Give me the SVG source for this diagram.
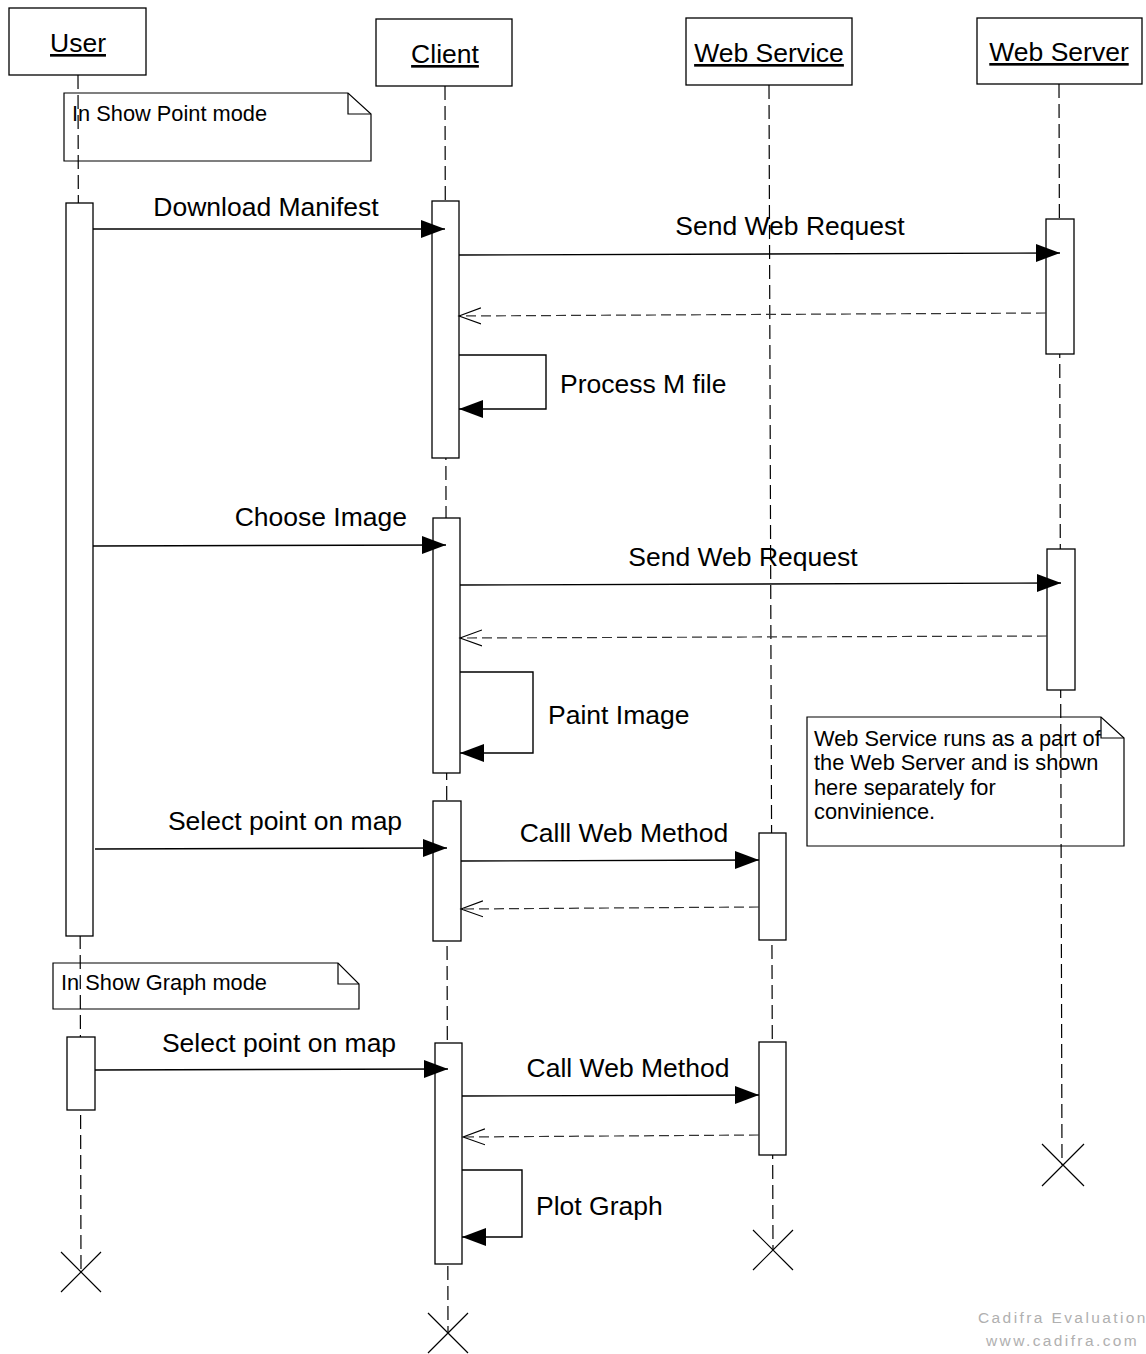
<svg xmlns="http://www.w3.org/2000/svg" width="1146" height="1354" viewBox="0 0 1146 1354">
  <style>
    .box { fill: #fff; stroke: #000; stroke-width: 1.3; }
    .note { fill: #fff; stroke: #000; stroke-width: 1.2; }
    .fold { fill: none; stroke: #000; stroke-width: 1.2; }
    .life { stroke: #000; stroke-width: 1.2; stroke-dasharray: 14 6; fill: none; }
    .msg { stroke: #000; stroke-width: 1.4; fill: none; }
    .ret { stroke: #333; stroke-width: 1.2; stroke-dasharray: 10 5; fill: none; }
    .xend { stroke: #000; stroke-width: 1.2; fill: none; }
    .hdr { font-family: "Liberation Sans", Arial, sans-serif; font-size: 26.5px; text-anchor: middle; text-decoration: underline; fill: #000; }
    .lbl { font-family: "Liberation Sans", Arial, sans-serif; font-size: 26.5px; fill: #000; }
    .ntxt { font-family: "Liberation Sans", Arial, sans-serif; font-size: 21.8px; fill: #000; }
    .wm { font-family: "Liberation Sans", Arial, sans-serif; font-size: 15.5px; fill: #b0b0b0; letter-spacing: 2.4px; }
  </style>
  <defs>
    <marker id="solid" markerUnits="userSpaceOnUse" markerWidth="26" markerHeight="20" refX="24" refY="9" orient="auto">
      <path d="M0,0 L24,9 L0,18 Z" fill="#000"/>
    </marker>
    <marker id="open" markerUnits="userSpaceOnUse" markerWidth="26" markerHeight="20" refX="22" refY="9" orient="auto">
      <path d="M0,1 L22,9 L0,17" fill="none" stroke="#000" stroke-width="1.1"/>
    </marker>
  </defs>

  <rect width="1146" height="1354" fill="#fff"/>

  <!-- notes -->
  <g id="note-point-mode">
    <path class="note" d="M64,93 H348 L371,114 V161 H64 Z"/>
    <path class="fold" d="M348,93 V114 H371"/>
    <text class="ntxt" x="72" y="121">In Show Point mode</text>
  </g>
  <g id="note-graph-mode">
    <path class="note" d="M53,963 H338 L359,984 V1009 H53 Z"/>
    <path class="fold" d="M338,963 V984 H359"/>
    <text class="ntxt" x="61" y="990">In Show Graph mode</text>
  </g>
  <g id="note-web-service">
    <path class="note" d="M807,717 H1101 L1124,738 V846 H807 Z"/>
    <path class="fold" d="M1101,717 V738 H1124"/>
    <text class="ntxt" x="814" y="746">Web Service runs as a part of</text>
    <text class="ntxt" x="814" y="770">the Web Server and is shown</text>
    <text class="ntxt" x="814" y="795">here separately for</text>
    <text class="ntxt" x="814" y="819">convinience.</text>
  </g>

  <!-- lifelines -->
  <g id="lifelines">
    <line class="life" x1="78" y1="75" x2="81" y2="1272"/>
    <line class="life" x1="445" y1="86" x2="448" y2="1333"/>
    <line class="life" x1="769" y1="85" x2="773" y2="1250"/>
    <line class="life" x1="1059" y1="84" x2="1062" y2="1165"/>
  </g>

  <!-- participants -->
  <g id="user">
    <rect class="box" x="9" y="8" width="137" height="67"/>
    <text class="hdr" x="78" y="52">User</text>
    <rect class="box" x="66" y="203" width="27" height="733"/>
    <rect class="box" x="67" y="1037" width="28" height="73"/>
    <path class="xend" d="M61,1252 L101,1292 M101,1252 L61,1292"/>
  </g>
  <g id="client">
    <rect class="box" x="376" y="19" width="136" height="67"/>
    <text class="hdr" x="445" y="63">Client</text>
    <rect class="box" x="432" y="201" width="27" height="257"/>
    <rect class="box" x="433" y="518" width="27" height="255"/>
    <rect class="box" x="433" y="801" width="28" height="140"/>
    <rect class="box" x="435" y="1043" width="27" height="221"/>
    <path class="xend" d="M428,1313 L468,1353 M468,1313 L428,1353"/>
  </g>
  <g id="web-service">
    <rect class="box" x="686" y="18" width="166" height="67"/>
    <text class="hdr" x="769" y="62">Web Service</text>
    <rect class="box" x="759" y="833" width="27" height="107"/>
    <rect class="box" x="759" y="1042" width="27" height="113"/>
    <path class="xend" d="M753,1230 L793,1270 M793,1230 L753,1270"/>
  </g>
  <g id="web-server">
    <rect class="box" x="977" y="18" width="165" height="66"/>
    <text class="hdr" x="1059" y="61">Web Server</text>
    <rect class="box" x="1046" y="219" width="28" height="135"/>
    <rect class="box" x="1047" y="549" width="28" height="141"/>
    <path class="xend" d="M1042,1144 L1084,1186 M1084,1144 L1042,1186"/>
  </g>

  <!-- messages -->
  <g id="connectors">
    <line class="msg" x1="93" y1="229" x2="445" y2="229" marker-end="url(#solid)"/>
    <line class="msg" x1="459" y1="255" x2="1060" y2="253" marker-end="url(#solid)"/>
    <line class="ret" x1="1046" y1="313" x2="459" y2="316" marker-end="url(#open)"/>
    <polyline class="msg" points="459,355 546,355 546,409 459,409" marker-end="url(#solid)"/>

    <line class="msg" x1="93" y1="546" x2="446" y2="545" marker-end="url(#solid)"/>
    <line class="msg" x1="460" y1="585" x2="1061" y2="583" marker-end="url(#solid)"/>
    <line class="ret" x1="1047" y1="636" x2="460" y2="638" marker-end="url(#open)"/>
    <polyline class="msg" points="460,672 533,672 533,753 460,753" marker-end="url(#solid)"/>

    <line class="msg" x1="95" y1="849" x2="447" y2="848" marker-end="url(#solid)"/>
    <line class="msg" x1="461" y1="861" x2="759" y2="860" marker-end="url(#solid)"/>
    <line class="ret" x1="759" y1="907" x2="461" y2="909" marker-end="url(#open)"/>

    <line class="msg" x1="95" y1="1070" x2="448" y2="1069" marker-end="url(#solid)"/>
    <line class="msg" x1="462" y1="1096" x2="759" y2="1095" marker-end="url(#solid)"/>
    <line class="ret" x1="759" y1="1135" x2="463" y2="1137" marker-end="url(#open)"/>
    <polyline class="msg" points="462,1170 522,1170 522,1237 462,1237" marker-end="url(#solid)"/>
  </g>

  <!-- message labels -->
  <g id="labels">
    <text class="lbl" x="266" y="216" text-anchor="middle">Download Manifest</text>
    <text class="lbl" x="790" y="235" text-anchor="middle">Send Web Request</text>
    <text class="lbl" x="560" y="393">Process M file</text>
    <text class="lbl" x="407" y="526" text-anchor="end">Choose Image</text>
    <text class="lbl" x="743" y="566" text-anchor="middle">Send Web Request</text>
    <text class="lbl" x="548" y="724">Paint Image</text>
    <text class="lbl" x="285" y="830" text-anchor="middle">Select point on map</text>
    <text class="lbl" x="624" y="842" text-anchor="middle">Calll Web Method</text>
    <text class="lbl" x="279" y="1052" text-anchor="middle">Select point on map</text>
    <text class="lbl" x="628" y="1077" text-anchor="middle">Call Web Method</text>
    <text class="lbl" x="536" y="1215">Plot Graph</text>
  </g>

  <!-- evaluation stamp -->
  <text class="wm" x="978" y="1323">Cadifra Evaluation</text>
  <text class="wm" x="986" y="1346">www.cadifra.com</text>
</svg>
